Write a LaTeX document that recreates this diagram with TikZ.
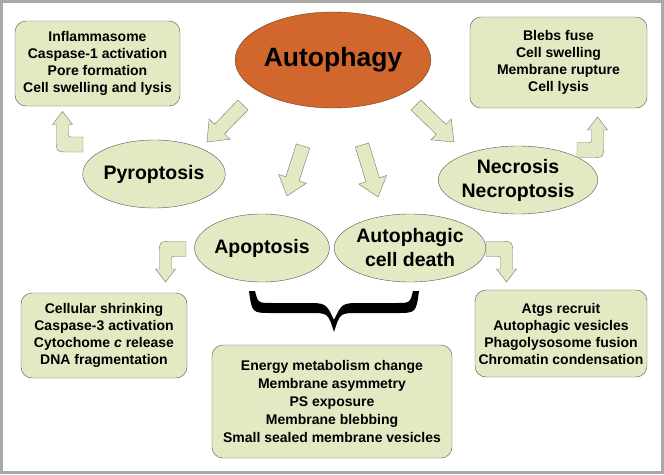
\documentclass[tikz,border=0pt]{standalone}
\usepackage{fontspec}
\setmainfont{Liberation Sans}
\usetikzlibrary{shapes.geometric,calc}

\definecolor{leaf}{HTML}{E2EAC4}
\definecolor{leafline}{HTML}{555555}
\definecolor{rust}{HTML}{D2672D}
\definecolor{rustline}{HTML}{6E3A1E}
\definecolor{frame}{HTML}{A8A8A8}

\begin{document}
\begin{tikzpicture}[
    x=1pt, y=-1pt,
    fx/.style={draw=leafline, fill=leaf, rounded corners=11pt, align=center,
      inner sep=0pt, font=\fontsize{14}{17}\selectfont\bfseries},
    death/.style={ellipse, draw=leafline, fill=leaf, align=center, inner sep=0pt,
      minimum width=132pt, minimum height=68pt, font=\fontsize{19.5}{24}\selectfont\bfseries},
    fatarrow/.style={draw=leafline!80, fill=leaf, line join=miter},
    bent/.pic={
      \draw[fatarrow] (0,-7.5) -- (-10,-7.5) .. controls (-14.5,-7.5) .. (-14.5,-11.5)
        -- (-14.5,-20) -- (-10.5,-20) -- (-20.5,-33) -- (-30.5,-20) -- (-26.5,-20)
        -- (-26.5,-4.5) .. controls (-26.5,7.5) .. (-14.5,7.5) -- (0,7.5) -- cycle;
    }
]

\def\shaft{7}
\def\headw{14.5}
\def\headl{18}

\useasboundingbox (0,0) rectangle (664,474);
\fill[frame] (0,0) rectangle (664,474);
\fill[white] (3,2.5) rectangle (660.5,471);

% centre
\node[ellipse, draw=rustline, fill=rust, inner sep=0pt, minimum width=182pt, minimum height=96pt,
  font=\fontsize{26.5}{30}\selectfont\bfseries] (auto) at (333,60) {Autophagy};

% cell death routes
\node[death] (pyro) at (154,174) {Pyroptosis};
\node[death] (necro) at (518,180) {Necrosis\\Necroptosis};
\node[death] (apop) at (262,248) {Apoptosis};
\node[death] (acd) at (410,248) {Autophagic\\cell death};

% features
\node[fx, minimum width=165pt, minimum height=85pt] (pyrobox) at (97.5,63.5)
  {Inflammasome\\Caspase-1 activation\\Pore formation\\Cell swelling and lysis};
\node[fx, minimum width=177pt, minimum height=91pt] (necrobox) at (558.5,62.5)
  {Blebs fuse\\Cell swelling\\Membrane rupture\\Cell lysis};
\node[fx, minimum width=166pt, minimum height=85pt] (apopbox) at (104,335.5)
  {Cellular shrinking\\Caspase-3 activation\\Cytochome \textit{c} release\\DNA fragmentation};
\node[fx, minimum width=172pt, minimum height=87pt] (acdbox) at (561,333.5)
  {Atgs recruit\\Autophagic vesicles\\Phagolysosome fusion\\Chromatin condensation};
\node[fx, minimum width=240pt, minimum height=113pt, font=\fontsize{14}{18}\selectfont\bfseries]
  (shared) at (332,401.5)
  {Energy metabolism change\\Membrane asymmetry\\PS exposure\\Membrane blebbing\\Small sealed membrane vesicles};

% block arrows from autophagy
\coordinate (ar1s) at (243,105);  \coordinate (ar1e) at (207,142);
\coordinate (ar2s) at (303,146);  \coordinate (ar2e) at (287,196);
\coordinate (ar3s) at (362,145);  \coordinate (ar3e) at (378,197);
\coordinate (ar4s) at (416,105);  \coordinate (ar4e) at (454,142);

\foreach \from/\to in {ar1s/ar1e, ar2s/ar2e, ar3s/ar3e, ar4s/ar4e} {
  \path let \p1=($(\to)-(\from)$), \n1={atan2(\y1,\x1)}, \n2={veclen(\x1,\y1)} in
    \pgfextra{\xdef\arang{\n1}\xdef\arlen{\n2}};
  \draw[fatarrow, shift={(\from)}, rotate=\arang]
    (0pt,\shaft pt) -- ({\arlen-\headl pt},\shaft pt) -- ({\arlen-\headl pt},\headw pt)
    -- (\arlen,0pt) -- ({\arlen-\headl pt},-\headw pt) -- ({\arlen-\headl pt},-\shaft pt)
    -- (0pt,-\shaft pt) -- cycle;
}

% bent arrows to the feature boxes
\coordinate (pyroout) at (83,144.5);
\coordinate (necroout) at (577,150);
\coordinate (apopout) at (186,249);
\coordinate (acdout) at (486,249);
\pic at (pyroout) {bent};
\pic[xscale=-1] at (necroout) {bent};
\pic[yscale=-1] at (apopout) {bent};
\pic[xscale=-1, yscale=-1] at (acdout) {bent};

% brace over shared features
\fill[black] (249,291) .. controls (252,313) .. (272,313) -- (310,313)
  .. controls (328,313) .. (334,332) .. controls (340,313) .. (358,313) -- (396,313)
  .. controls (416,313) .. (419,291) -- (413,291) .. controls (410,303) .. (396,303)
  -- (362,303) .. controls (342,303) .. (334,320) .. controls (326,303) .. (306,303)
  -- (272,303) .. controls (258,303) .. (255,291) -- cycle;

\end{tikzpicture}
\end{document}
